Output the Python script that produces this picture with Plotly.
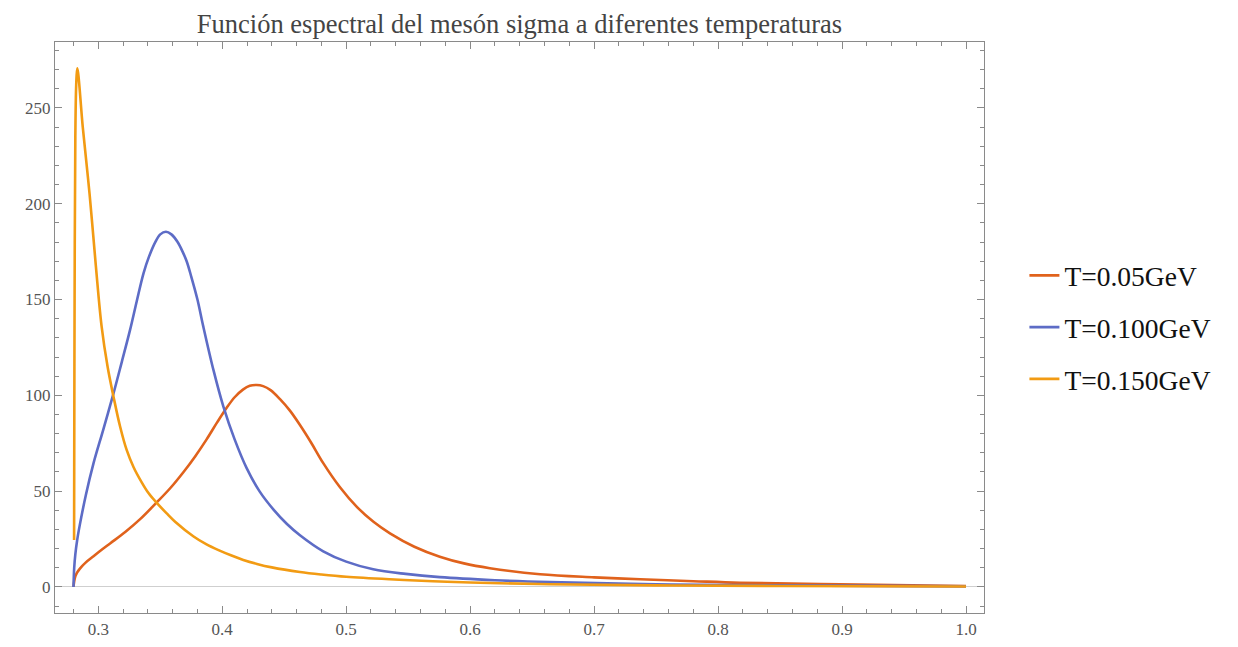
import plotly.graph_objects as go

# T = 0.05 GeV
x_t005 = [0.2800, 0.2806, 0.2815, 0.2830, 0.2852, 0.2900, 0.2962, 0.3030, 0.3098, 0.3220,
          0.3340, 0.3470, 0.3580, 0.3688, 0.3780, 0.3874, 0.3960, 0.4036, 0.4100, 0.4167,
          0.4222, 0.4278, 0.4330, 0.4390, 0.4466, 0.4546, 0.4627, 0.4720, 0.4815, 0.4950,
          0.5084, 0.5220, 0.5353, 0.5550, 0.5755, 0.5950, 0.6159, 0.6564, 0.7000, 0.7371,
          0.7800, 0.8178, 0.8985, 1.0000]
y_t005 = [0.0, 3.0, 5.5, 7.6, 9.6, 12.8, 16.0, 19.5, 22.8, 28.8,
          35.5, 44.0, 51.5, 60.0, 68.0, 77.0, 86.0, 93.5, 99.0, 103.0,
          105.0, 105.4, 104.8, 102.7, 98.0, 92.0, 84.5, 75.0, 64.6, 52.0,
          41.9, 34.0, 28.0, 21.0, 15.8, 12.3, 9.8, 6.6, 5.0, 4.0,
          3.0, 2.2, 1.4, 0.5]

# T = 0.100 GeV
x_t100 = [0.2800, 0.2806, 0.2815, 0.2830, 0.2850, 0.2900, 0.2962, 0.3040, 0.3123, 0.3190,
          0.3256, 0.3310, 0.3365, 0.3410, 0.3460, 0.3500, 0.3546, 0.3590, 0.3640, 0.3680,
          0.3713, 0.3750, 0.3800, 0.3847, 0.3930, 0.4010, 0.4100, 0.4197, 0.4300, 0.4412,
          0.4520, 0.4627, 0.4815, 0.5000, 0.5218, 0.5480, 0.5755, 0.6200, 0.6643, 0.7500,
          0.8500, 1.0000]
y_t100 = [0.0, 10.0, 17.0, 24.5, 32.0, 48.0, 64.6, 82.0, 101.0, 117.5,
          134.0, 149.0, 163.7, 172.5, 180.0, 184.0, 185.4, 184.0, 180.0, 175.0,
          170.0, 162.0, 150.0, 136.0, 113.0, 94.0, 77.0, 62.0, 50.0, 40.5,
          33.0, 27.0, 18.6, 13.2, 9.2, 6.8, 5.1, 3.5, 2.5, 1.4,
          0.8, 0.3]

# T = 0.150 GeV
x_t150 = [0.2805, 0.2806, 0.2809, 0.2815, 0.2822, 0.2830, 0.2838, 0.2875, 0.2930, 0.2980,
          0.3027, 0.3075, 0.3123, 0.3175, 0.3229, 0.3285, 0.3347, 0.3405, 0.3470, 0.3550,
          0.3620, 0.3769, 0.3870, 0.3970, 0.4070, 0.4170, 0.4280, 0.4400, 0.4627, 0.4800,
          0.5000, 0.5350, 0.5700, 0.6000, 0.6643, 0.7500, 0.8500, 1.0000]
y_t150 = [24.5, 60.0, 150.0, 235.0, 262.0, 270.7, 268.0, 240.0, 205.0, 168.0,
          136.0, 115.0, 99.3, 84.0, 71.5, 62.5, 55.0, 49.0, 44.0, 38.5,
          34.0, 26.3, 22.3, 19.2, 16.5, 14.1, 12.0, 10.2, 7.8, 6.5,
          5.3, 4.0, 3.0, 2.3, 1.4, 0.8, 0.5, 0.2]

series_names = ["T=0.05GeV", "T=0.100GeV", "T=0.150GeV"]
series_colors = ["#E0621C", "#5D6CC6", "#F29B13"]

x_tickvals = [0.3, 0.4, 0.5, 0.6, 0.7, 0.8, 0.9, 1.0]
x_ticktext = ["0.3", "0.4", "0.5", "0.6", "0.7", "0.8", "0.9", "1.0"]
y_tickvals = [0, 50, 100, 150, 200, 250]

title_text = "Función espectral del mesón sigma a diferentes temperaturas"

fig = go.Figure()
for xs, ys, name, col in zip([x_t005, x_t100, x_t150], [y_t005, y_t100, y_t150],
                             series_names, series_colors):
    fig.add_trace(go.Scatter(x=xs, y=ys, mode="lines", name=name, legendgroup=name,
                             line=dict(color=col, width=2.6, shape="spline", smoothing=1.0)))

axis_common = dict(
    showgrid=False, showline=True, linecolor="#8a8a8a", linewidth=1.3, mirror="allticks",
    ticks="inside", ticklen=7, tickwidth=1, tickcolor="#8a8a8a", automargin=False,
    tickfont=dict(family="Liberation Serif", size=17, color="#555555"),
)

fig.update_xaxes(range=[0.2651, 1.0145], tickvals=x_tickvals, ticktext=x_ticktext,
                 zeroline=False,
                 minor=dict(ticks="inside", dtick=0.02, tick0=0.28, ticklen=4,
                            tickcolor="#8a8a8a", showgrid=False),
                 **axis_common)
fig.update_yaxes(range=[-13.6, 284.4], tickvals=y_tickvals,
                 zeroline=True, zerolinecolor="#cfcfcf", zerolinewidth=1.2,
                 minor=dict(ticks="inside", dtick=10, tick0=0, ticklen=4,
                            tickcolor="#8a8a8a", showgrid=False),
                 **axis_common)

W, H = 1230, 639
fig.update_layout(
    width=W, height=H,
    margin=dict(l=47, r=254, t=34, b=34, autoexpand=False),
    paper_bgcolor="white", plot_bgcolor="white",
    title=dict(text=title_text, x=0.5, xref="paper", xanchor="center",
               y=1 - 16 / H, yanchor="middle",
               font=dict(family="Liberation Serif", size=26.5, color="#444444")),
    legend=dict(x=1.0435, xanchor="left", y=0.5, yanchor="middle",
                font=dict(family="Liberation Serif", size=27.5, color="#111111"),
                tracegroupgap=13, bgcolor="rgba(0,0,0,0)"),
    showlegend=True,
)

fig.write_html("out.html")
